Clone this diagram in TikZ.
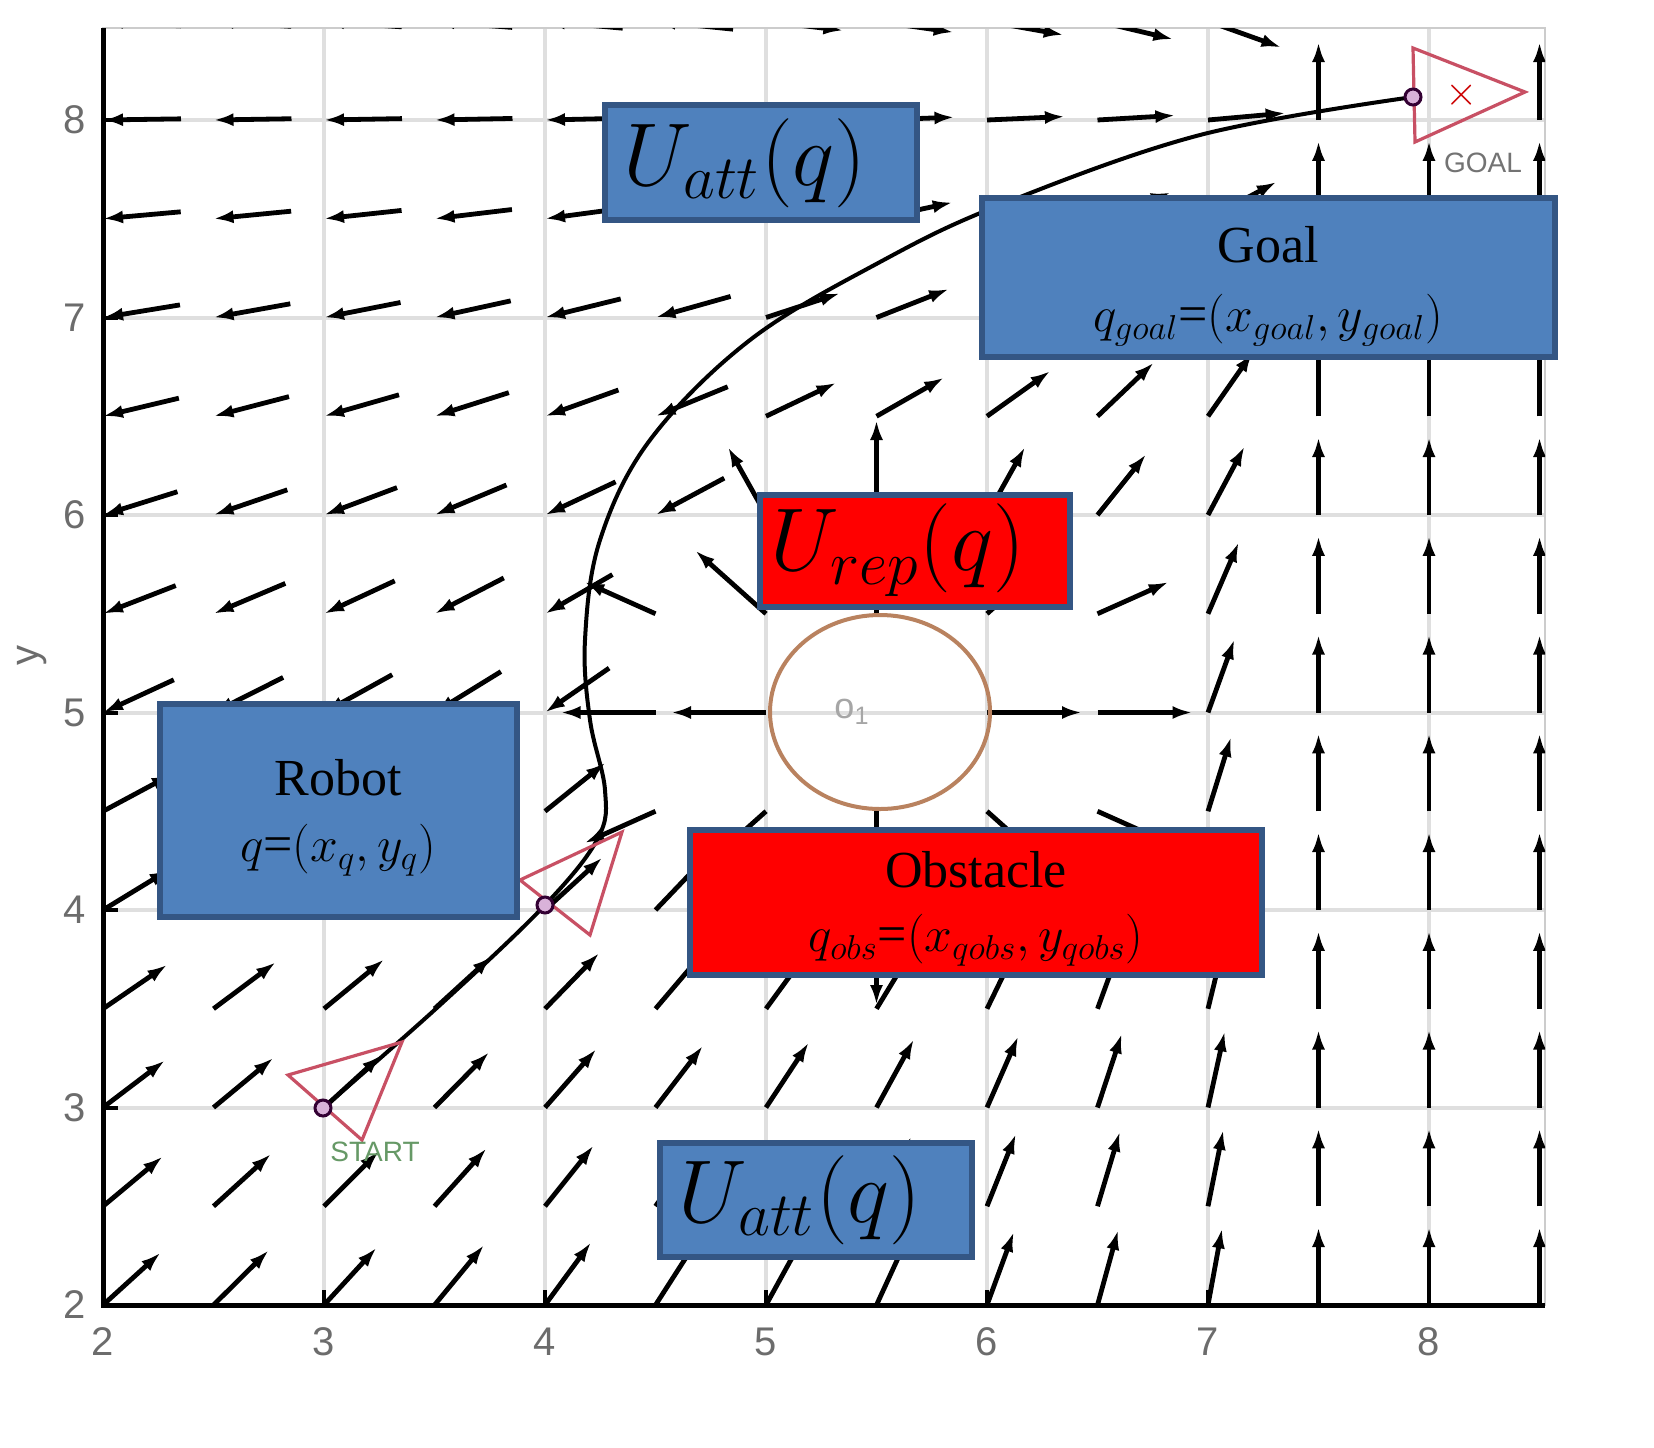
\documentclass[tikz,border=0pt]{standalone}
\usepackage{fontspec}
\setmainfont{Liberation Serif}
\newfontfamily\axfont{Liberation Sans}
\usetikzlibrary{arrows.meta,shapes.geometric}
\definecolor{boxblue}{RGB}{79,129,189}
\definecolor{boxedge}{RGB}{52,86,132}
\definecolor{robred}{RGB}{200,80,100}
\definecolor{obsedge}{RGB}{185,130,95}
\tikzset{
 bluebox/.style={draw=boxedge,line width=3pt,fill=boxblue},
 redbox/.style={draw=boxedge,line width=3pt,fill=red},
 fld/.style={line width=2.4pt,-{Latex[length=10pt,width=6.5pt]}},
 tick/.style={text=gray!85!black,font=\axfont\fontsize{20}{22}\selectfont},
 robot/.style={draw=robred,line width=1.6pt},
 dot/.style={draw=black!60!violet,line width=1.5pt,fill=violet!30},
 bigmath/.style={scale=2.15,font=\fontsize{20}{24}\selectfont}
}
\begin{document}
\begin{tikzpicture}[x=0.5pt,y=-0.5pt]
\useasboundingbox (0,0) rectangle (1654,1447);
\fill[white] (0,0) rectangle (1654,1447);
% grid
\foreach \i in {3,...,8}{\draw[gray!25,line width=2pt] ({103+221*(\i-2)},28) -- ({103+221*(\i-2)},1305);}
\foreach \j in {3,...,8}{\draw[gray!25,line width=2pt] (103,{1305-197.5*(\j-2)}) -- (1545,{1305-197.5*(\j-2)});}
\draw[gray!40,line width=1pt] (103,28) rectangle (1545,1305);
% field
\begin{scope}
\clip (103,28) rectangle (1545,1305);
\foreach \u in {2,2.5,...,8.5}{\foreach \v in {2,2.5,...,8.5}{
 \pgfmathsetmacro\px{103+221*(\u-2)}
 \pgfmathsetmacro\py{1305-197.5*(\v-2)}
 \pgfmathsetmacro\d{veclen(\u-5.5,\v-5)}
 \pgfmathsetmacro\dg{veclen(\u-8,\v-8.1)}
 \pgfmathtruncatemacro\skp{or(\d<0.4,\dg<0.3)}
 \pgfmathsetmacro\ang{\u>7.4 ? 90 : (\d<1.4 ? atan2(197.5*(\v-5),221*(\u-5.5)) : atan2(197.5*(8.1-\v),221*(8-\u)))}
 \pgfmathsetmacro\L{\d<1.05 ? 95 : 78}
 \pgfmathtruncatemacro\rev{and(and(\v>4.9,\u<4.6),\d>=1.4)}
 \pgfmathsetmacro\ex{\px+\L*cos(\ang)}
 \pgfmathsetmacro\ey{\py-\L*sin(\ang)}
 \ifnum\skp=0
  \ifnum\rev=1
   \draw[fld] (\ex,\ey) -- (\px,\py);
  \else
   \draw[fld] (\px,\py) -- (\ex,\ey);
  \fi
 \fi
}}
\end{scope}
% axes
\draw[black,line width=2.5pt] (103,28) -- (103,1305) -- (1545,1305);
\foreach \i in {2,...,8}{
 \node[tick] (tx\i) at ({103+221*(\i-2)},1342) {\i};
 \draw[black,line width=2pt] ({103+221*(\i-2)},1305) -- ({103+221*(\i-2)},1290);
}
\foreach \j in {2,...,8}{
 \node[tick] (ty\j) at (75,{1305-197.5*(\j-2)}) {\j};
 \draw[black,line width=2pt] (103,{1305-197.5*(\j-2)}) -- (118,{1305-197.5*(\j-2)});
}
\node[tick,rotate=90] (ylab) at (32,655) {y};
% obstacle
\node[draw=obsedge,line width=2pt,ellipse,minimum width=110pt,minimum height=97pt,inner sep=0] (obs) at (880,712) {};
\node[text=gray!70,font=\axfont\fontsize{18}{20}\selectfont] (olab) at (852,712) {o\textsubscript{1}};
% path
\draw[black,line width=2pt] plot[smooth,tension=0.6] coordinates {(323,1108) (440,1005) (545,905) (598,838) (605,790) (590,720) (585,640) (600,540) (650,440) (750,340) (880,262) (1000,205) (1200,135) (1413,97)};
% robots
\draw[robot] (288,1075) -- (402,1042) -- (362,1140) -- cycle;
\draw[robot] (520,880) -- (622,832) -- (590,935) -- cycle;
\draw[robot] (1413,48) -- (1525,92) -- (1415,142) -- cycle;
\node[dot,circle,minimum size=8pt,inner sep=0] (ds) at (323,1108) {};
\node[dot,circle,minimum size=8pt,inner sep=0] (dr) at (545,905) {};
\node[dot,circle,minimum size=8pt,inner sep=0] (dg) at (1413,97) {};
\node[text=red!80!black,font=\axfont\fontsize{22}{22}\selectfont] (gx) at (1462,95) {$\times$};
\node[text=gray!80!green,font=\axfont\fontsize{14}{16}\selectfont] (startl) at (375,1152) {START};
\node[text=gray!90!black,font=\axfont\fontsize{14}{16}\selectfont] (goall) at (1483,163) {GOAL};
% boxes
\draw[bluebox] (605,105) rectangle (917,220);
\node[bigmath] (ua1) at (745,163) {$U_{att}(q)$};
\draw[bluebox] (982,198) rectangle (1555,357);
\node (gl1) at (1268,245) {\fontsize{26}{28}\selectfont Goal};
\node (gl2) at (1268,320) {\fontsize{26}{28}\selectfont$q_{goal}$=$(x_{goal},y_{goal})$};
\draw[redbox] (760,495) rectangle (1070,607);
\node[bigmath] (ur) at (898,550) {$U_{rep}(q)$};
\draw[bluebox] (160,704) rectangle (517,917);
\node (rb1) at (338,778) {\fontsize{26}{28}\selectfont Robot};
\node (rb2) at (338,850) {\fontsize{26}{28}\selectfont$q$=$(x_q,y_q)$};
\draw[redbox] (690,830) rectangle (1262,975);
\node (ob1) at (976,870) {\fontsize{26}{28}\selectfont Obstacle};
\node (ob2) at (976,940) {\fontsize{26}{28}\selectfont$q_{obs}$=$(x_{qobs},y_{qobs})$};
\draw[bluebox] (660,1143) rectangle (972,1257);
\node[bigmath] (ua2) at (800,1200) {$U_{att}(q)$};
\end{tikzpicture}
\end{document}
